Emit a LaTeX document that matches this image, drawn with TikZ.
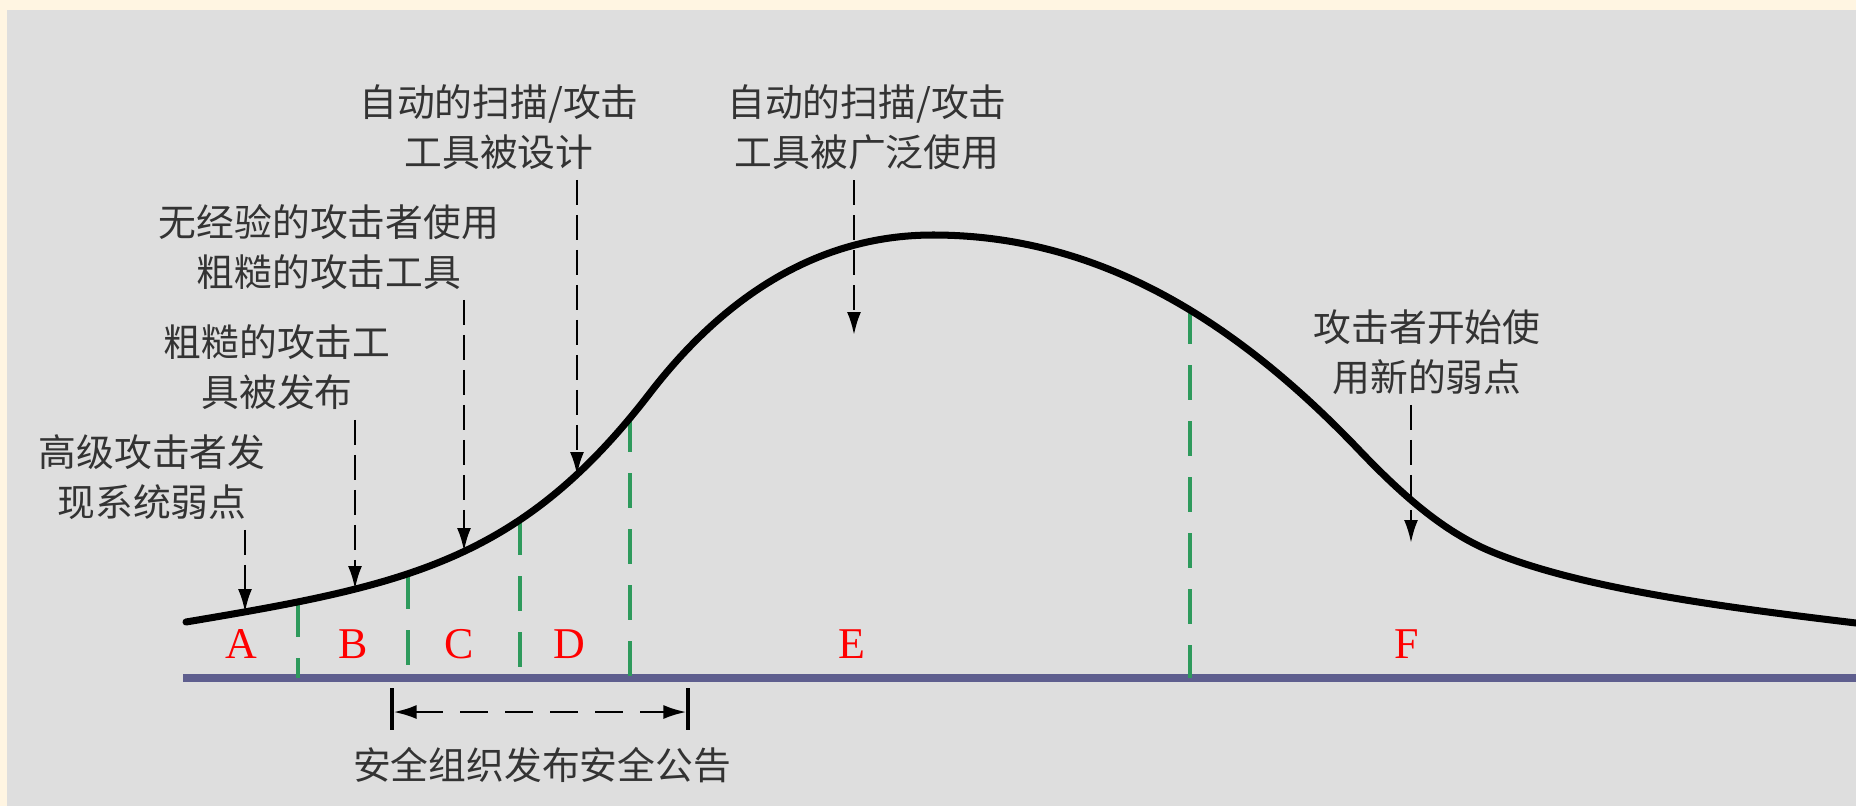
\documentclass[tikz,border=0pt]{standalone}
\usepackage{fontspec}
\setmainfont{Liberation Serif}
\newfontfamily\cjk{Noto Sans CJK SC}
\usetikzlibrary{arrows.meta}
\definecolor{cream}{HTML}{FFF5E2}
\definecolor{panel}{HTML}{DEDEDE}
\definecolor{axisblue}{HTML}{5E5E8E}
\definecolor{divgreen}{HTML}{2E9A5C}
\definecolor{txtgray}{HTML}{333333}

\begin{document}
\begin{tikzpicture}[x=0.2mm,y=-0.2mm,>={Latex[length=4.6mm,width=2.8mm]},
  lbl/.style={font=\cjk\fontsize{21.5}{28.5}\selectfont,text=txtgray,align=center,inner sep=0pt},
  pointer/.style={->,line width=1.5pt,dash pattern=on 5mm off 2mm,shorten <=2mm},
  divider/.style={divgreen,line width=2pt,dash pattern=on 7mm off 4.2mm},
  region/.style={red,font=\fontsize{25}{25}\selectfont,inner sep=0pt}]
  % background
  \fill[cream] (0,0) rectangle (1856,806);
  \fill[panel] (7,10) rectangle (1856,806);
  \useasboundingbox (0,0) rectangle (1856,806);

  % axis
  \coordinate (ax0) at (183,678);
  \coordinate (ax1) at (1856,678);
  \draw[axisblue,line width=4pt] (ax0) -- (ax1);

  % points on the curve
  \coordinate (g1) at (298,602);
  \coordinate (g2) at (408,574);
  \coordinate (g3) at (520,520);
  \coordinate (g4) at (630,417);
  \coordinate (g5) at (1190,309);
  \coordinate (pA) at (245,612);
  \coordinate (pB) at (355,589);
  \coordinate (pC) at (464,551);
  \coordinate (pD) at (577,475);
  \coordinate (pE) at (854,335);
  \coordinate (pF) at (1411,543);

  % dividers
  \foreach \g in {g1,g2,g3,g4,g5}
    \draw[divider] (\g) -- (\g |- ax0);

  % the curve
  \draw[line width=4pt,line cap=round]
    (186,622) .. controls (406,585) and (520,562) .. (650,393)
    .. controls (720,302) and (813,235) .. (933,235)
    .. controls (1093,235) and (1230,314.5) .. (1360,451)
    .. controls (1405,498) and (1445,532) .. (1490,551)
    .. controls (1580,588.8) and (1726,607.4) .. (1856,623);

  % region letters
  \node[region] (rA) at (241,644) {A};
  \node[region] (rB) at (353,644) {B};
  \node[region] (rC) at (459,644) {C};
  \node[region] (rD) at (569,644) {D};
  \node[region] (rE) at (852,644) {E};
  \node[region] (rF) at (1407,644) {F};

  % labels
  \node[lbl] (hacker) at (152,477) {高级攻击者发\\现系统弱点};
  \node[lbl] (crude) at (277,367) {粗糙的攻击工\\具被发布};
  \node[lbl] (novice) at (329,247) {无经验的攻击者使用\\粗糙的攻击工具};
  \node[lbl] (design) at (499,127) {自动的扫描/攻击\\工具被设计};
  \node[lbl] (widely) at (867,127) {自动的扫描/攻击\\工具被广泛使用};
  \node[lbl] (newvuln) at (1427,352) {攻击者开始使\\用新的弱点};

  % pointers
  \draw[pointer] (hacker.south -| pA) -- (pA);
  \draw[pointer] (crude.south -| pB) -- (pB);
  \draw[pointer] (novice.south -| pC) -- (pC);
  \draw[pointer] (design.south -| pD) -- (pD);
  \draw[pointer] (widely.south -| pE) -- (pE);
  \draw[pointer] (newvuln.south -| pF) -- (pF);

  % advisory span
  \coordinate (s0) at (392,688);
  \coordinate (s1) at (688,688);
  \draw[line width=1.8pt] (s0) -- ++(0,42);
  \draw[line width=1.8pt] (s1) -- ++(0,42);
  \draw[<->,line width=1.5pt,dash pattern=on 5.5mm off 3.5mm,shorten <=0.9pt,shorten >=0.9pt]
    ([yshift=-4.8mm]s0) -- ([yshift=-4.8mm]s1);
  \node[lbl] (advisory) at (542,765) {安全组织发布安全公告};
\end{tikzpicture}
\end{document}
